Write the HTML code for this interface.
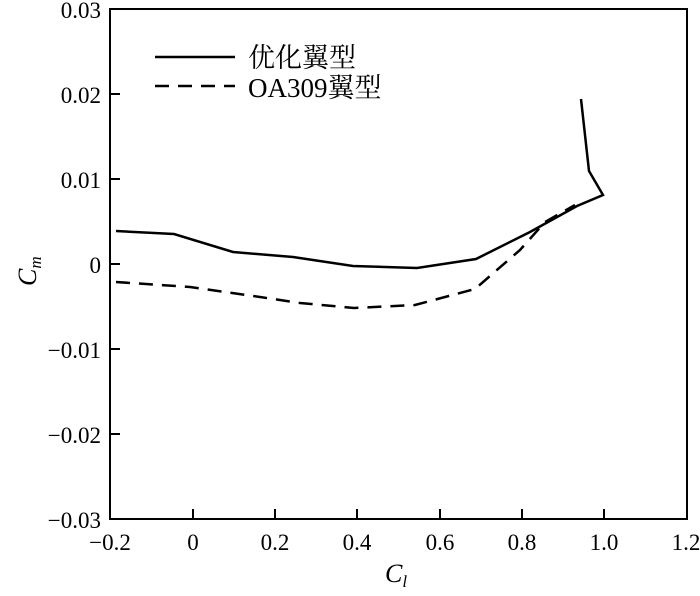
<!DOCTYPE html>
<html><head><meta charset="utf-8"><style>body{margin:0;background:#fff}</style></head><body>
<svg width="700" height="591" viewBox="0 0 700 591" xmlns="http://www.w3.org/2000/svg" font-family="Liberation Serif, Noto Serif CJK SC, serif">
<rect x="110" y="9" width="577" height="510" fill="none" stroke="#000" stroke-width="2"/>
<g stroke="#000" stroke-width="2">
<line x1="193" y1="519" x2="193" y2="509"/><line x1="275" y1="519" x2="275" y2="509"/><line x1="357" y1="519" x2="357" y2="509"/><line x1="440" y1="519" x2="440" y2="509"/><line x1="522" y1="519" x2="522" y2="509"/><line x1="604" y1="519" x2="604" y2="509"/>
<line x1="110" y1="94" x2="120" y2="94"/><line x1="110" y1="179" x2="120" y2="179"/><line x1="110" y1="264" x2="120" y2="264"/><line x1="110" y1="349" x2="120" y2="349"/><line x1="110" y1="434" x2="120" y2="434"/>
</g>
<g font-size="23" text-anchor="end">
<text x="101" y="18">0.03</text><text x="101" y="103">0.02</text><text x="101" y="188">0.01</text><text x="101" y="273">0</text><text x="101" y="358">−0.01</text><text x="101" y="443">−0.02</text><text x="101" y="528">−0.03</text>
</g>
<g font-size="23" text-anchor="middle">
<text x="110" y="550">−0.2</text><text x="193" y="550">0</text><text x="275" y="550">0.2</text><text x="357" y="550">0.4</text><text x="440" y="550">0.6</text><text x="522" y="550">0.8</text><text x="604" y="550">1.0</text><text x="686" y="550">1.2</text>
</g>
<text x="385" y="582" font-size="26" font-style="italic">C<tspan font-size="17" dy="5">l</tspan></text>
<text transform="translate(36,286) rotate(-90)" font-size="26" font-style="italic">C<tspan font-size="17" dy="5">m</tspan></text>
<polyline fill="none" stroke="#000" stroke-width="2.5" points="116,231 174,234 233,252 293,257 353,266 417,268 476,259 530,232 577,206 603,195 589,171 581,99"/>
<polyline fill="none" stroke="#000" stroke-width="2.5" stroke-dasharray="14,9" points="116,282 190,287 260,297 300,303 354,308 415,305 475,289 520,250 545,222 575,205"/>
<line x1="155" y1="57" x2="235" y2="57" stroke="#000" stroke-width="2.5"/>
<line x1="155" y1="86" x2="235" y2="86" stroke="#000" stroke-width="2.5" stroke-dasharray="14,9"/>
<text x="248" y="67" font-size="27">优化翼型</text>
<text x="248" y="97" font-size="27">OA309翼型</text>
</svg>
</body></html>
